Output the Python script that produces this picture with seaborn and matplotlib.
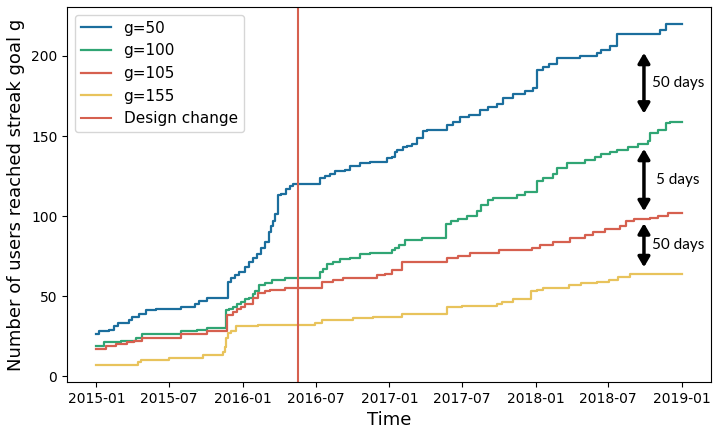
import numpy as np
import pandas as pd
import matplotlib
matplotlib.use("Agg")
import matplotlib.pyplot as plt
import matplotlib.dates as mdates
import seaborn as sns

START = pd.Timestamp("2015-01-01")

# step data: day offset from 2015-01-01 and cumulative count
g50_days = [0, 7, 32, 45, 53, 82, 90, 107, 124, 149, 212, 245, 255, 277, 328, 336, 345, 357, 370, 382,
            392, 400, 412, 420, 430, 436, 441, 446, 452, 461, 474, 482, 490, 557, 570, 582, 595, 620,
            632, 657, 682, 725, 737, 745, 750, 765, 775, 787, 800, 815, 825, 875, 890, 907, 930, 957,
            977, 1000, 1015, 1040, 1070, 1090, 1100, 1115, 1130, 1150, 1207, 1250, 1260, 1282, 1300,
            1407, 1422, 1460]
g50_vals = [26, 28, 29, 31, 33, 35, 37, 39, 41, 42, 43, 45, 47, 49, 59, 61, 63, 65, 68, 71,
            74, 76, 80, 84, 90, 94, 97, 101, 113, 114, 117, 119, 120, 124, 125, 126, 128, 129,
            131, 133, 134, 136, 137, 140, 141, 143, 144, 145, 149, 153, 154, 157, 159, 162, 163, 166,
            168, 170, 174, 176, 178, 180, 191, 193, 195, 199, 200, 202, 204, 206, 214,
            216, 220, 220]

g100_days = [0, 20, 62, 100, 115, 212, 250, 277, 324, 332, 340, 350, 362, 372, 382, 390, 395, 405, 420,
             437, 470, 557, 565, 575, 590, 607, 632, 657, 682, 737, 745, 755, 770, 812, 872, 885, 902,
             925, 950, 960, 977, 990, 1050, 1070, 1100, 1115, 1140, 1150, 1175, 1220, 1245, 1260, 1282,
             1300, 1325, 1350, 1375, 1380, 1400, 1420, 1430, 1460]
g100_vals = [19, 21, 22, 24, 26, 28, 29, 30, 41, 42, 43, 45, 46, 48, 49, 51, 53, 57, 58,
             60, 61, 65, 67, 70, 71, 73, 74, 76, 77, 79, 80, 82, 85, 86, 95, 97, 98,
             100, 103, 107, 110, 111, 113, 115, 122, 124, 126, 130, 133, 135, 137, 139, 140,
             141, 143, 145, 147, 152, 154, 158, 159, 159]

g105_days = [0, 25, 50, 77, 95, 115, 212, 277, 325, 340, 350, 362, 372, 390, 403, 420, 432, 470, 562,
             590, 615, 700, 720, 737, 762, 875, 902, 932, 1005, 1087, 1107, 1140, 1182, 1220, 1240,
             1270, 1307, 1320, 1340, 1380, 1400, 1425, 1460]
g105_vals = [17, 19, 20, 21, 22, 24, 26, 28, 38, 40, 42, 43, 45, 49, 52, 53, 54, 55, 59,
             60, 61, 63, 64, 66, 71, 74, 75, 77, 79, 80, 82, 84, 86, 88, 90,
             92, 94, 97, 98, 99, 100, 102, 102]

g155_days = [0, 103, 112, 182, 267, 315, 320, 324, 328, 335, 349, 403, 545, 562, 640, 690, 762, 875,
             912, 1000, 1012, 1040, 1085, 1100, 1115, 1178, 1210, 1250, 1280, 1302, 1332, 1460]
g155_vals = [7, 9, 10, 11, 13, 15, 18, 24, 27, 28, 31, 32, 33, 35, 36, 37, 39, 43,
             44, 45, 46, 48, 53, 54, 55, 57, 58, 59, 60, 62, 64, 64]

series_names = ["g=50", "g=100", "g=105", "g=155"]
series_days = [g50_days, g100_days, g105_days, g155_days]
series_vals = [g50_vals, g100_vals, g105_vals, g155_vals]
colors = ["#1b6e9d", "#30a574", "#d6604f", "#e8c35c"]

design_change = "2016-05-17"

arrow_day = "2018-09-28"
arrow_spans = [(164, 202), (103, 142), (68, 95.5)]
arrow_labels = ["50 days", "5 days", "50 days"]
label_days = ["2018-10-19", "2018-10-27", "2018-10-19"]

frames = []
for name, d, v in zip(series_names, series_days, series_vals):
    frames.append(pd.DataFrame({"date": START + pd.to_timedelta(d, unit="D"),
                                "value": v, "series": name}))
df = pd.concat(frames, ignore_index=True)

fig = plt.figure(figsize=(7.21, 4.34), dpi=100)
ax = fig.add_axes([0.093, 0.12, 0.893, 0.864])

sns.lineplot(data=df, x="date", y="value", hue="series", palette=colors,
             drawstyle="steps-post", lw=1.6, ax=ax, estimator=None)
ax.axvline(pd.Timestamp(design_change), color=colors[2], lw=1.5, label="Design change")

ax.legend(loc="upper left", fontsize=11)
ax.set_xlabel("Time", fontsize=13)
ax.set_ylabel("Number of users reached streak goal g", fontsize=13)
ax.xaxis.set_major_locator(mdates.MonthLocator(bymonth=[1, 7]))
ax.xaxis.set_major_formatter(mdates.DateFormatter("%Y-%m"))
ax.tick_params(labelsize=10)
ax.set_yticks([0, 50, 100, 150, 200])

xa = pd.Timestamp(arrow_day)
for (y0, y1), lab, ld in zip(arrow_spans, arrow_labels, label_days):
    ax.annotate("", xy=(xa, y1), xytext=(xa, y0),
                arrowprops=dict(arrowstyle="<|-|>,head_width=0.35,head_length=0.6",
                                color="black", lw=2.5, shrinkA=0, shrinkB=0))
    ax.text(pd.Timestamp(ld), (y0 + y1) / 2, lab, ha="left", va="center",
            fontsize=11, family=["Lato", "DejaVu Sans"])

fig.savefig("out.png", dpi=100)
